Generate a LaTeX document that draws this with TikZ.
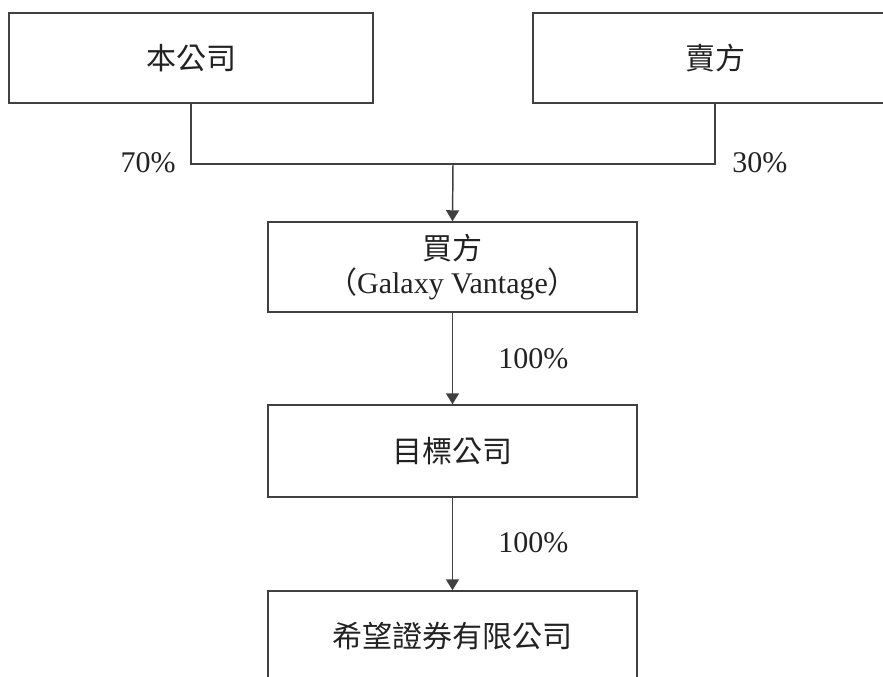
\documentclass[tikz,border=0pt]{standalone}
\usepackage{fontspec}
\setmainfont{Liberation Serif}
\newfontfamily\cjk{Noto Sans CJK TC}
\usetikzlibrary{arrows.meta}
\definecolor{linegray}{HTML}{404040}
\definecolor{txt}{HTML}{222222}
\tikzset{
  box/.style={draw=linegray, line width=1.1pt, rectangle, minimum width=369*0.75pt, minimum height=90*0.75pt, inner sep=0pt, text=txt, font=\fontsize{22.5}{27}\selectfont\cjk, align=center},
  conn/.style={draw=linegray, line width=1.1pt},
  arr/.style={conn, -{Triangle[width=9.75pt,length=8.25pt]}},
  pct/.style={text=txt, font=\fontsize{22.5}{27}\selectfont, inner sep=0pt}
}
\begin{document}
\begin{tikzpicture}[x=0.75pt,y=-0.75pt]
\clip (0,0) rectangle (883,676);
\fill[white] (0,0) rectangle (883,676);
\node[box, minimum width=364*0.75pt] (a) at (191,58) {本公司};
\node[box, minimum width=364*0.75pt] (b) at (715,58) {賣方};
\node[box] (c) at (452.5,267) {買方\\[-2pt]（{\rmfamily Galaxy Vantage}）};
\node[box, minimum height=92*0.75pt] (d) at (452.5,451) {目標公司};
\node[box] (e) at (452.5,636) {希望證券有限公司};
\coordinate (j) at (453,164);
\draw[conn] (a.south) |- (j) -| (b.south);
\draw[arr] (j) -- (c.north);
\draw[arr] (c.south) -- (d.north);
\draw[arr] (d.south) -- (e.north);
\node[pct, anchor=east] (p70) at (176,163) {70\%};
\node[pct, anchor=west] (p30) at (732,163) {30\%};
\node[pct, anchor=west] (p1) at (498,359) {100\%};
\node[pct, anchor=west] (p2) at (498,543) {100\%};
\end{tikzpicture}
\end{document}
